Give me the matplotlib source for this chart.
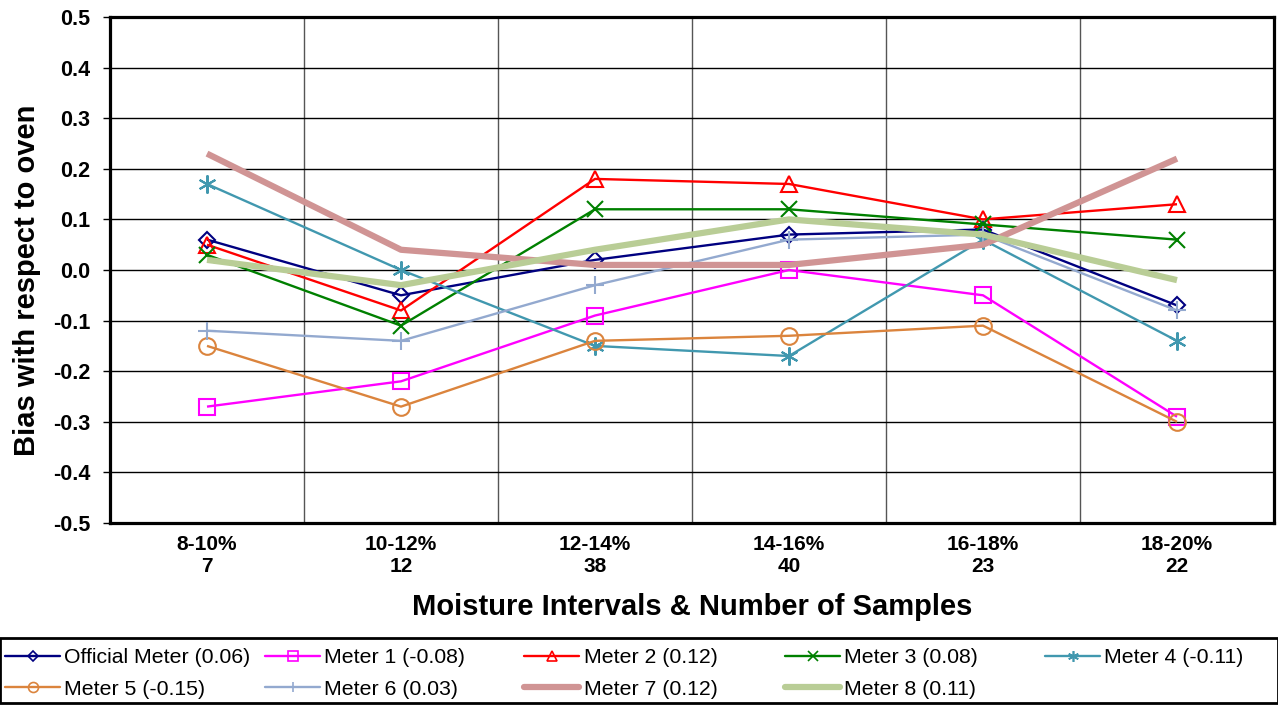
import matplotlib
matplotlib.use("Agg")
import matplotlib.pyplot as plt
from matplotlib.lines import Line2D
from matplotlib.patches import Rectangle

plt.rcParams['font.family'] = ['Liberation Sans', 'DejaVu Sans']

categories = ["8-10%\n7", "10-12%\n12", "12-14%\n38", "14-16%\n40", "16-18%\n23", "18-20%\n22"]

official = [0.06, -0.05, 0.02, 0.07, 0.08, -0.07]
meter1 = [-0.27, -0.22, -0.09, 0.00, -0.05, -0.29]
meter2 = [0.05, -0.08, 0.18, 0.17, 0.10, 0.13]
meter3 = [0.03, -0.11, 0.12, 0.12, 0.09, 0.06]
meter4 = [0.17, 0.00, -0.15, -0.17, 0.06, -0.14]
meter5 = [-0.15, -0.27, -0.14, -0.13, -0.11, -0.30]
meter6 = [-0.12, -0.14, -0.03, 0.06, 0.07, -0.08]
meter7 = [0.23, 0.04, 0.01, 0.01, 0.05, 0.22]
meter8 = [0.02, -0.03, 0.04, 0.10, 0.07, -0.02]

labels = ["Official Meter (0.06)", "Meter 1 (-0.08)", "Meter 2 (0.12)", "Meter 3 (0.08)",
          "Meter 4 (-0.11)", "Meter 5 (-0.15)", "Meter 6 (0.03)", "Meter 7 (0.12)", "Meter 8 (0.11)"]
series = [official, meter1, meter2, meter3, meter4, meter5, meter6, meter7, meter8]
colors = ["#000080", "#FF00FF", "#FF0000", "#008000", "#4198AF", "#DB843D", "#93A9CF", "#D09494", "#B9CD96"]
markers = ["D", "s", "^", "x", "*", "o", "+", None, None]
msizes = [8, 12, 12, 11, 13, 12, 13, 0, 0]
lwidths = [1.7, 1.7, 1.7, 1.7, 1.7, 1.7, 1.7, 4.5, 4.5]

fig = plt.figure(figsize=(12.78, 7.07), dpi=100)
ax = fig.add_axes([110/1278, 1-523/707, (1274-110)/1278, (523-17)/707])

x = list(range(len(categories)))
handles = []
for i in range(len(series)):
    m = markers[i]
    mk = (6, 2, 0) if m == "*" else m
    ax.plot(x, series[i], color=colors[i], lw=lwidths[i], marker=mk,
            ms=msizes[i], mfc='none', mec=colors[i], mew=1.5,
            solid_capstyle='butt', zorder=3, label=labels[i])
    h = Line2D([], [], color=colors[i], lw=lwidths[i],
               marker=mk, ms=msizes[i]*0.6, mfc='none', mec=colors[i], mew=1.2,
               solid_capstyle='round')
    handles.append(h)

ax.set_xlim(-0.5, len(categories) - 0.5)
ax.set_ylim(-0.5, 0.5)
yt = [round(-0.5 + 0.1*k, 1) for k in range(11)]
ax.set_yticks(yt)
ax.set_yticklabels([f"{v:.1f}" for v in yt], fontsize=15.5, fontweight='bold')
ax.set_xticks(x)
ax.set_xticklabels(categories, fontsize=15, fontweight='bold', linespacing=1.2)
ax.set_xticks([k + 0.5 for k in range(len(categories) - 1)], minor=True)
ax.tick_params(axis='x', which='both', length=0, pad=9)
ax.tick_params(axis='y', which='major', length=5, width=1, direction='out', pad=9)
ax.grid(axis='y', which='major', color='black', lw=1)
ax.grid(axis='x', which='minor', color='#555555', lw=1)
ax.set_axisbelow(True)
for s in ax.spines.values():
    s.set_linewidth(2.3)
    s.set_color('black')

ax.set_ylabel("Bias with respect to oven", fontsize=21, fontweight='bold')
ax.yaxis.set_label_coords(-0.059, (523-280)/506)
ax.set_xlabel("Moisture Intervals & Number of Samples", fontsize=21, fontweight='bold', labelpad=12)

# legend frame
fig.patches.append(Rectangle((0, 1-703/707), 1, (703-638)/707, transform=fig.transFigure,
                             fill=False, edgecolor='black', lw=2.0, zorder=0))

ncol = 5
col_x = [5, 265, 524, 785, 1045]
for c in range(ncol):
    idx = [k for k in (c, c + ncol) if k < len(handles)]
    fig.legend(handles=[handles[k] for k in idx], labels=[labels[k] for k in idx],
               loc='upper left', bbox_to_anchor=(col_x[c]/1278, 1-648/707),
               fontsize=15.3, frameon=False, handlelength=2.6, handletextpad=0.2,
               borderaxespad=0, borderpad=0, labelspacing=0.6)

fig.savefig("out.png", dpi=100)
